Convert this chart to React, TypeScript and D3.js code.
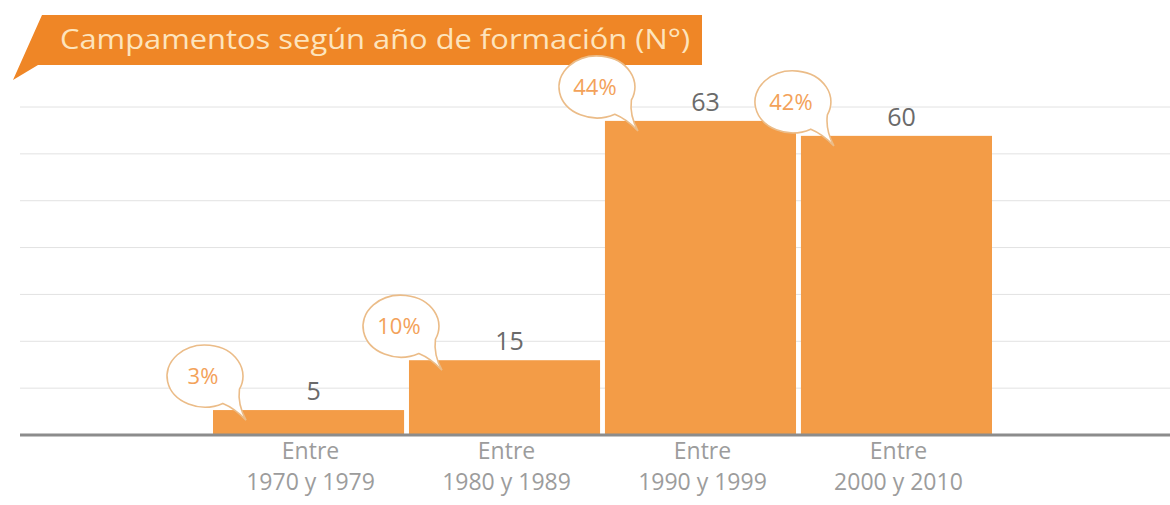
import * as d3 from "d3";

const categories = ["1970-1979", "1980-1989", "1990-1999", "2000-2010"];
const labelTop = ["Entre", "Entre", "Entre", "Entre"];
const labelBottom = ["1970 y 1979", "1980 y 1989", "1990 y 1999", "2000 y 2010"];
const counts = [5, 15, 63, 60];
const shares = ["3%", "10%", "44%", "42%"];

const title = "Campamentos según año de formación (N°)";

const W = 1170;
const H = 505;
const baseY = 435;
const barColor = "#f39c47";
const bannerColor = "#ef8626";
const bubbleStroke = "#ebbc88";
const bubbleText = "#f3a25a";
const font = "'Open Sans', 'Noto Sans', sans-serif";

function bubblePath(cx: number, cy: number, rx: number, ry: number) {
  const a1 = (25 * Math.PI) / 180;
  const a2 = (62 * Math.PI) / 180;
  const p1 = [cx + rx * Math.cos(a1), cy + ry * Math.sin(a1)];
  const p2 = [cx + rx * Math.cos(a2), cy + ry * Math.sin(a2)];
  const tip = [cx + 41, cy + 44];
  return `M ${p2[0]} ${p2[1]}
    A ${rx} ${ry} 0 1 1 ${p1[0]} ${p1[1]}
    Q ${p1[0] - 2} ${(p1[1] + tip[1]) / 2} ${tip[0]} ${tip[1]}
    Q ${(p2[0] + tip[0]) / 2} ${tip[1] - 12} ${p2[0]} ${p2[1]} Z`;
}

export default function App() {
  const x = d3.scaleBand<string>()
    .domain(categories)
    .range([213, 992])
    .paddingInner(0.025)
    .paddingOuter(0);

  const y = d3.scaleLinear().domain([0, 70]).range([baseY, 86]);

  // background grid, evenly spaced
  const grid = d3.scaleLinear().domain([0, 7]).range([baseY, 107]);
  const gridLines = d3.range(1, 8);

  return (
    <svg width={W} height={H} style={{ position: "absolute", left: 0, top: 0, background: "#fff" }}>
      {gridLines.map(i => (
        <line key={i} x1={20} x2={W} y1={grid(i)} y2={grid(i)} stroke="#e2e2e2" strokeWidth={1} />
      ))}

      {/* title banner */}
      <path d="M 42 15 L 702 15 L 702 65 L 38 65 L 13 80 Z" fill={bannerColor} />
      <text x={60} y={49} fontFamily={font} fontSize={28} fill="#fde4bd" textLength={630} lengthAdjust="spacingAndGlyphs">
        {title}
      </text>

      {categories.map((c, i) => {
        const bx = x(c) as number;
        const bw = x.bandwidth();
        const top = y(counts[i]);
        return (
          <g key={c}>
            <rect x={bx} y={top} width={bw} height={baseY - top} fill={barColor} />
            <text x={bx + bw / 2 + 5} y={top - 10} textAnchor="middle" fontFamily={font} fontSize={25} fill="#6a6a6a">
              {counts[i]}
            </text>
            <text x={bx + bw / 2 + 2} y={459} textAnchor="middle" fontFamily={font} fontSize={23} fill="#9c9c9c">
              {labelTop[i]}
            </text>
            <text x={bx + bw / 2 + 2} y={490} textAnchor="middle" fontFamily={font} fontSize={23} fill="#9c9c9c">
              {labelBottom[i]}
            </text>
          </g>
        );
      })}

      <line x1={20} x2={W} y1={baseY} y2={baseY} stroke="#8c8c8c" strokeWidth={3} />

      {categories.map((c, i) => {
        const cx = (x(c) as number) - 8;
        const cy = y(counts[i]) - 34;
        return (
          <g key={"b" + c}>
            <path d={bubblePath(cx, cy, 38, 31)} fill="#fff" stroke={bubbleStroke} strokeWidth={1.6} />
            <text x={cx - 2} y={cy + 8} textAnchor="middle" fontFamily={font} fontSize={22} fill={bubbleText}>
              {shares[i]}
            </text>
          </g>
        );
      })}
    </svg>
  );
}
